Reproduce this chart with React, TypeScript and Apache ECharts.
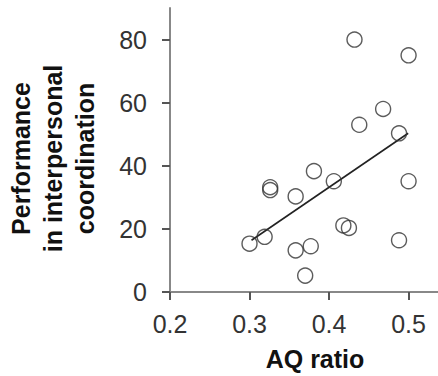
import React, { useEffect, useRef } from "react";
import * as echarts from "echarts";

const aqRatio = [0.432, 0.5, 0.468, 0.438, 0.488, 0.381, 0.406, 0.5, 0.326, 0.326, 0.358, 0.418, 0.425, 0.319, 0.3, 0.488, 0.358, 0.377, 0.37];
const performance = [80, 75, 58, 53, 50.3, 38.3, 35.1, 35.1, 33.2, 32.3, 30.3, 21.1, 20.3, 17.5, 15.3, 16.4, 13.2, 14.5, 5.2];
const fitX = [0.3025, 0.4995];
const fitY = [16.4, 50.3];
const xTicks = [0.2, 0.3, 0.4, 0.5];
const yTicks = [0, 20, 40, 60, 80];
const xTitle = "AQ ratio";
const yTitleLines = ["Performance", "in interpersonal", "coordination"];

const FONT = "'Liberation Sans', Arial, Helvetica, sans-serif";

export default function App() {
  const ref = useRef<HTMLDivElement>(null);
  useEffect(() => {
    document.body.style.margin = "0";
    if (!ref.current) return;
    const chart = echarts.init(ref.current, null, { renderer: "svg" });
    const points = aqRatio.map((x, i) => [x, performance[i]]);
    const fit = fitX.map((x, i) => [x, fitY[i]]);
    chart.setOption({
      animation: false,
      backgroundColor: "#ffffff",
      grid: { left: 170, right: 0, top: 8, bottom: 84, containLabel: false },
      xAxis: {
        type: "value",
        min: 0.2,
        max: 0.537,
        splitLine: { show: false },
        axisLine: { show: true, onZero: false, lineStyle: { color: "#888", width: 2 } },
        axisTick: { show: true, length: 8, customValues: xTicks, lineStyle: { color: "#555", width: 2 } },
        axisLabel: {
          customValues: xTicks,
          margin: 19,
          fontSize: 25,
          color: "#333",
          fontFamily: FONT,
          formatter: (v: number) => v.toFixed(1),
        },
      },
      yAxis: {
        type: "value",
        min: 0,
        max: 90,
        splitLine: { show: false },
        axisLine: { show: true, onZero: false, lineStyle: { color: "#888", width: 2 } },
        axisTick: { show: true, length: 8, customValues: yTicks, lineStyle: { color: "#555", width: 2 } },
        axisLabel: {
          customValues: yTicks,
          margin: 23,
          fontSize: 25,
          color: "#333",
          fontFamily: FONT,
        },
      },
      graphic: [
        {
          type: "text",
          x: 315,
          y: 359,
          style: {
            text: xTitle,
            fontSize: 25,
            fontWeight: "bold",
            fontFamily: FONT,
            fill: "#111",
            textAlign: "center",
            textVerticalAlign: "middle",
          },
        },
        {
          type: "text",
          x: 53,
          y: 158.5,
          rotation: Math.PI / 2,
          style: {
            text: yTitleLines.join("\n"),
            fontSize: 25,
            lineHeight: 32,
            fontWeight: "bold",
            fontFamily: FONT,
            fill: "#111",
            textAlign: "center",
            textVerticalAlign: "middle",
          },
        },
      ],
      series: [
        {
          type: "scatter",
          data: points,
          symbol: "circle",
          symbolSize: 15,
          itemStyle: { color: "rgba(255,255,255,0)", borderColor: "#333", borderWidth: 1.4 },
          z: 3,
        },
        {
          type: "line",
          data: fit,
          symbol: "none",
          lineStyle: { color: "#222", width: 1.6 },
          z: 2,
        },
      ],
    });
    return () => chart.dispose();
  }, []);
  return <div ref={ref} style={{ width: 438, height: 376 }} />;
}
